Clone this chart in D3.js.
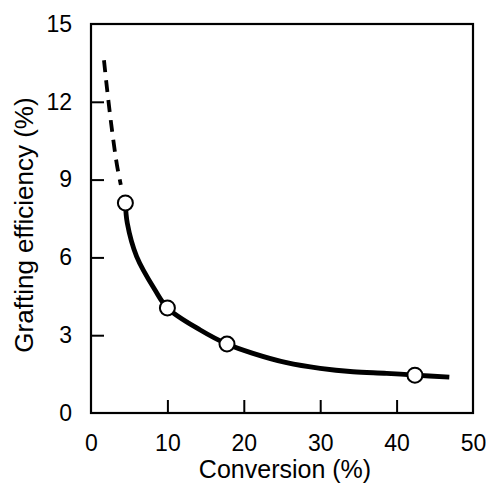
<!DOCTYPE html>
<html>
<head>
<meta charset="utf-8">
<script src="https://cdn.jsdelivr.net/npm/d3@7"></script>
<style>
  body { margin: 0; background: #fff; }
  svg { display: block; font-family: "Liberation Sans", Arial, sans-serif; }
</style>
</head>
<body>
<div id="chart"></div>
<script>
// measured points (conversion %, grafting efficiency %)
const pointX = [4.5, 10.0, 17.8, 42.4];
const pointY = [8.1, 4.05, 2.66, 1.46];

// fitted curve
const curveX = [4.5, 4.75, 5.98, 8.38, 10.0, 14.3, 17.8, 21.2, 25.6, 30.0, 34.3, 38.7, 42.4, 46.9];
const curveY = [8.1, 7.32, 6.03, 4.74, 4.05, 3.2, 2.66, 2.3, 1.94, 1.72, 1.59, 1.53, 1.46, 1.38];

// dashed extrapolation at low conversion
const dashX = [1.7, 2.1, 2.75, 3.4, 3.9];
const dashY = [13.6, 12.5, 10.9, 9.56, 8.8];

const xTicks = [0, 10, 20, 30, 40, 50];
const yTicks = [0, 3, 6, 9, 12, 15];

const W = 486, H = 487;
const margin = { top: 24, right: 13, bottom: 74, left: 91 };
const width = W - margin.left - margin.right;
const height = H - margin.top - margin.bottom;

const svg = d3.select("#chart")
  .append("svg")
  .attr("width", W)
  .attr("height", H);

const g = svg.append("g")
  .attr("transform", `translate(${margin.left},${margin.top})`);

const x = d3.scaleLinear().domain([0, 50]).range([0, width]);
const y = d3.scaleLinear().domain([0, 15]).range([height, 0]);

// bottom axis, ticks inward
const xAxis = g.append("g")
  .attr("transform", `translate(0,${height})`)
  .call(d3.axisBottom(x).tickValues(xTicks).tickSizeInner(-13).tickSizeOuter(0).tickPadding(22));
xAxis.select(".domain").remove();
xAxis.selectAll("line").attr("stroke", "#000").attr("stroke-width", 2)
  .filter(d => d === 0 || d === 50).remove();
xAxis.selectAll("text").attr("font-size", 23).attr("fill", "#000")
  .attr("font-family", "Liberation Sans, Arial, sans-serif");

// left axis, ticks inward
const yAxis = g.append("g")
  .call(d3.axisLeft(y).tickValues(yTicks).tickSizeInner(-13).tickSizeOuter(0).tickPadding(19));
yAxis.select(".domain").remove();
yAxis.selectAll("line").attr("stroke", "#000").attr("stroke-width", 2)
  .filter(d => d === 0 || d === 15).remove();
yAxis.selectAll("text").attr("font-size", 23).attr("fill", "#000")
  .attr("font-family", "Liberation Sans, Arial, sans-serif");

// frame
g.append("rect")
  .attr("x", 0).attr("y", 0)
  .attr("width", width).attr("height", height)
  .attr("fill", "none")
  .attr("stroke", "#000")
  .attr("stroke-width", 2.2);

const line = d3.line()
  .x(d => x(d[0]))
  .y(d => y(d[1]))
  .curve(d3.curveCatmullRom.alpha(0.5));

g.append("path")
  .datum(dashX.map((v, i) => [v, dashY[i]]))
  .attr("d", line)
  .attr("fill", "none")
  .attr("stroke", "#000")
  .attr("stroke-width", 3.8)
  .attr("stroke-dasharray", "12,8");

g.append("path")
  .datum(curveX.map((v, i) => [v, curveY[i]]))
  .attr("d", line)
  .attr("fill", "none")
  .attr("stroke", "#000")
  .attr("stroke-width", 4.8);

g.selectAll(".point")
  .data(pointX.map((v, i) => [v, pointY[i]]))
  .enter()
  .append("circle")
  .attr("class", "point")
  .attr("cx", d => x(d[0]))
  .attr("cy", d => y(d[1]))
  .attr("r", 7.5)
  .attr("fill", "#fff")
  .attr("stroke", "#000")
  .attr("stroke-width", 2);

// axis titles
svg.append("text")
  .attr("x", 285)
  .attr("y", 478)
  .attr("text-anchor", "middle")
  .attr("font-size", 25)
  .text("Conversion (%)");

svg.append("text")
  .attr("transform", "translate(33,225) rotate(-90)")
  .attr("text-anchor", "middle")
  .attr("font-size", 26)
  .text("Grafting efficiency (%)");
</script>
</body>
</html>
